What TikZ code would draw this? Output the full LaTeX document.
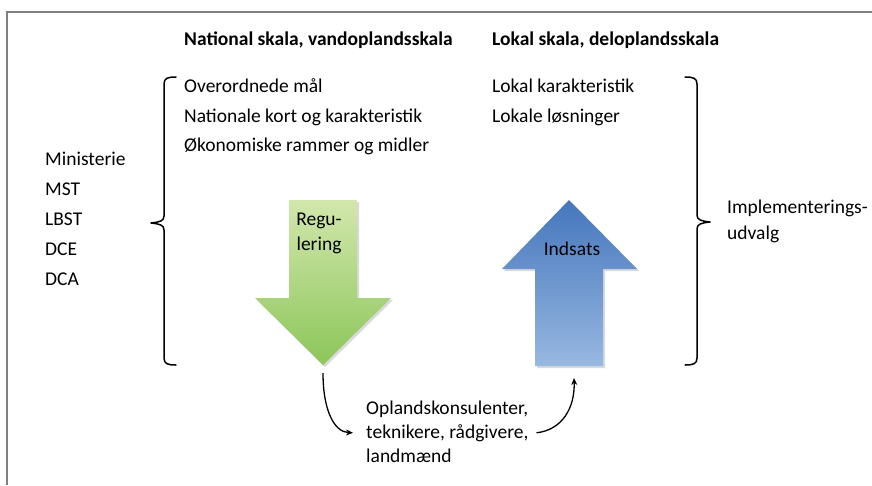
\documentclass[tikz,border=0pt]{standalone}
\usepackage{fontspec}
\setmainfont{Carlito}
\usetikzlibrary{arrows.meta, positioning, calc}
\tikzset{
  headStyle/.style = {font=\bfseries\fontsize{19.5}{22}\selectfont, anchor=base west, inner sep=0pt},
  itemStyle/.style = {font=\fontsize{19.5}{22}\selectfont, anchor=base west, inner sep=0pt},
  bracket/.style = {line width=1.5pt, line cap=round, line join=round},
  flow/.style = {-{Stealth[length=7pt, width=6pt]}, line width=1.3pt}
}

\begin{document}
\begin{tikzpicture}[x=1pt, y=-1pt]
  \colorlet{frameGray}{black!50}
  \definecolor{greenTop}{HTML}{D2E7AC}
  \definecolor{greenBot}{HTML}{8CC65A}
  \definecolor{blueTop}{HTML}{4576BD}
  \definecolor{blueBot}{HTML}{97B8E0}
  \colorlet{shadowGray}{black!15}

  \useasboundingbox (0,0) rectangle (872,485);
  \fill[white] (0,0) rectangle (872,485);
  \draw[frameGray, line width=1.3pt] (7,485) -- (7,12) -- (872,12);

  % headings
  \node[headStyle] (natHead) at (184,45) {National skala, vandoplandsskala};
  \node[headStyle] (lokHead) at (492,45) {Lokal skala, deloplandsskala};

  % actors on the left
  \foreach \txt [count=\i] in {Ministerie, MST, LBST, DCE, DCA}
    \node[itemStyle] (org\i) at (45,{135+30*\i}) {\txt};

  \node[itemStyle] (natA) at (184,92)  {Overordnede mål};
  \node[itemStyle] (natB) at (184,122) {Nationale kort og karakteristik};
  \node[itemStyle] (natC) at (184,151) {Økonomiske rammer og midler};

  \node[itemStyle] (lokA) at (492,92)  {Lokal karakteristik};
  \node[itemStyle] (lokB) at (492,122) {Lokale løsninger};

  \node[itemStyle] (implA) at (727,213) {Implementerings-};
  \node[itemStyle] (implB) at (727,239) {udvalg};

  % brackets
  \draw[bracket] (176,77) .. controls (168,77) and (164,78) .. (164,84)
    -- (164,216) .. controls (164,221) and (160,222) .. (151,223)
    .. controls (160,224) and (164,225) .. (164,230)
    -- (164,358) .. controls (164,364) and (168,365) .. (176,365);
  \draw[bracket] (685,77) .. controls (693,77) and (697,78) .. (697,84)
    -- (697,215) .. controls (697,220) and (701,221) .. (710,222)
    .. controls (701,223) and (697,224) .. (697,229)
    -- (697,358) .. controls (697,364) and (693,365) .. (685,365);

  % green arrow
  \fill[shadowGray] (291,202) -- (359,202) -- (359,300) -- (393,300) -- (325,367)
    -- (257,300) -- (291,300) -- cycle;
  \shade[top color=greenTop, bottom color=greenBot] (289,200) -- (357,200) -- (357,298)
    -- (391,298) -- (323,365) -- (255,298) -- (289,298) -- cycle;
  \node[itemStyle, anchor=base] (regA) at (319,225) {Regu-};
  \node[itemStyle, anchor=base] (regB) at (319,250) {lering};

  % blue arrow
  \fill[shadowGray] (571,202) -- (639,271) -- (605,271) -- (605,368) -- (537,368)
    -- (537,271) -- (504,271) -- cycle;
  \shade[top color=blueTop, bottom color=blueBot] (569,200) -- (637,269) -- (603,269)
    -- (603,366) -- (535,366) -- (535,269) -- (502,269) -- cycle;
  \node[itemStyle, anchor=base] (indText) at (572,255) {Indsats};

  % local actors
  \node[itemStyle] (cons1) at (366,414) {Oplandskonsulenter,};
  \node[itemStyle] (cons2) at (366,438) {teknikere, rådgivere,};
  \node[itemStyle] (cons3) at (366,462) {landmænd};

  \coordinate (greenTip) at (323,373);
  \coordinate (blueFoot) at (574,378);
  \draw[flow] (greenTip) .. controls (323,410) and (334,432) .. ([xshift=-13pt]cons2.west);
  \draw[flow] ([xshift=8pt]cons2.east) .. controls (562,430) and (575,408) .. (blueFoot);
\end{tikzpicture}
\end{document}
